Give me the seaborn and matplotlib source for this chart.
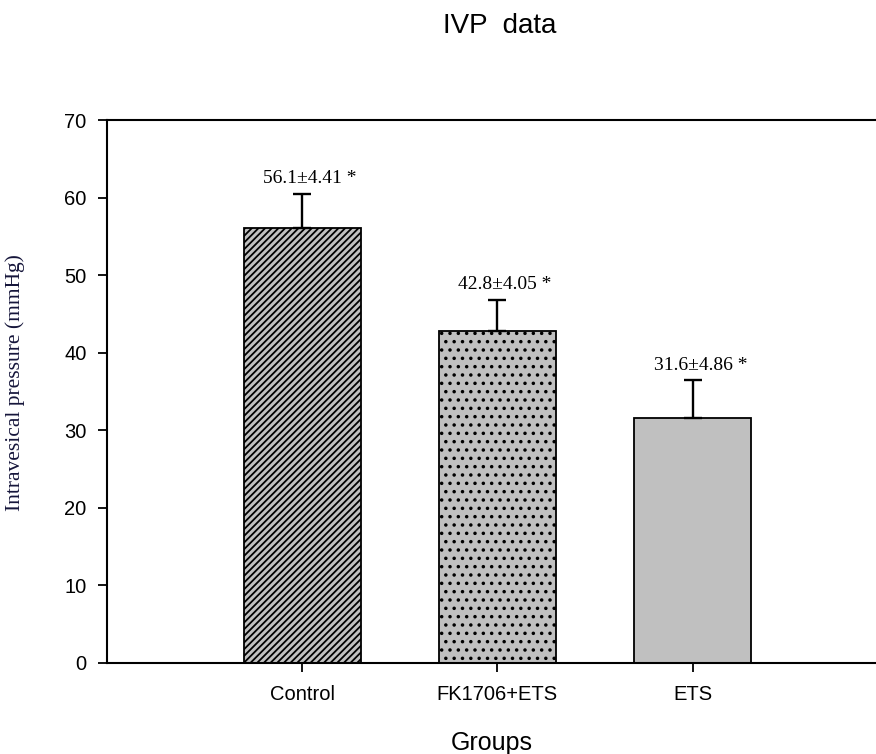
import numpy as np
import pandas as pd
import matplotlib
matplotlib.use('Agg')
import matplotlib.pyplot as plt
import seaborn as sns

# values
groups = ['Control', 'FK1706+ETS', 'ETS']
means = [56.1, 42.8, 31.6]
sds = [4.41, 4.05, 4.86]
labels = ['56.1±4.41 *', '42.8±4.05 *', '31.6±4.86 *']
hatches = ['/////', '..', '']

df = pd.DataFrame({'group': groups, 'pressure': means})

sns.set_style('ticks')
plt.rcParams['font.family'] = ['Liberation Sans', 'DejaVu Sans']
plt.rcParams['hatch.linewidth'] = 1.3
plt.rcParams['text.color'] = 'black'
plt.rcParams['axes.labelcolor'] = 'black'

fig = plt.figure(figsize=(8.76, 7.54), dpi=100)
ax = fig.add_axes([0.122, 0.1207, 0.878, 0.7201])

sns.barplot(data=df, x='group', y='pressure', color='#c0c0c0', width=0.6,
            saturation=1, edgecolor='black', linewidth=1.3, errorbar=None, ax=ax)

for bar, h in zip(ax.patches, hatches):
    bar.set_hatch(h)

# upper error bars only
x = np.arange(len(groups))
ax.errorbar(x, means, yerr=[np.zeros(len(sds)), sds], fmt='none',
            ecolor='black', elinewidth=1.7, capsize=6.5, capthick=1.7)

for xi, m, s, lab in zip(x, means, sds, labels):
    ax.text(xi + 0.04, m + s + 0.8, lab, ha='center', va='bottom',
            fontsize=14, family=['Liberation Serif', 'DejaVu Serif'])

ax.set_ylim(0, 70)
ax.set_xlim(-1.0, 2.94)
ax.set_yticks(range(0, 71, 10))
ax.tick_params(axis='both', direction='out', length=6.5, width=1.3,
               labelsize=14.5, colors='black')
ax.tick_params(axis='y', pad=8)
ax.tick_params(axis='x', pad=9)
for side in ['left', 'top', 'bottom']:
    ax.spines[side].set_linewidth(1.5)
    ax.spines[side].set_color('black')
ax.spines['right'].set_visible(False)

ax.set_xlabel('Groups', fontsize=18, labelpad=20)
ax.set_ylabel('Intravesical pressure (mmHg)', fontsize=15.5, color='#15153a',
              family=['Liberation Serif', 'DejaVu Serif'])
ax.yaxis.set_label_coords(-0.106, 0.516)

fig.text(0.570, 0.966, 'IVP  data', ha='center', va='center', fontsize=20)

plt.savefig('out.png', dpi=100)
